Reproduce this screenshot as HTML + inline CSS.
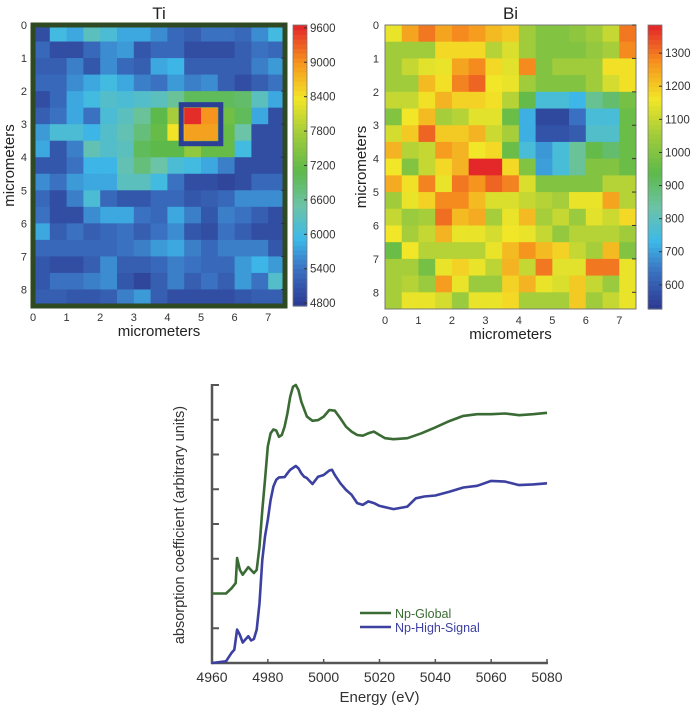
<!DOCTYPE html>
<html><head><meta charset="utf-8">
<style>
html,body{margin:0;padding:0;background:#fff;}
svg{display:block;font-family:"Liberation Sans",sans-serif;}
</style></head>
<body>
<svg id="fig" width="700" height="717" viewBox="0 0 700 717"></svg>
<script>
const tiRows = [
[5000,6000,5800,6300,6100,5800,5800,5600,5300,5200,5400,5400,5300,5600,6000],
[5300,5000,5000,5300,5600,5700,5100,5300,5300,5000,5000,5000,5200,5400,5300],
[5200,5200,5500,5100,5600,5300,5200,5800,5900,5200,5200,5200,5200,5500,5700],
[5300,5300,5600,5800,6000,5800,5500,5400,5700,5500,5600,5200,5000,5200,5400],
[5000,5300,5800,6000,6200,6100,6200,6300,6600,7000,7000,7000,6900,6300,5800],
[5200,5400,5800,5400,6100,6300,6600,7100,7800,9600,9000,7300,7000,5800,5000],
[5700,6100,6100,5900,6200,6400,6800,7200,8400,8900,8900,7200,6500,5000,5000],
[5800,5100,5500,6400,6200,6300,7000,7100,7100,7600,7200,7200,6000,5000,5000],
[5100,5100,5400,5900,5900,6400,6800,6500,6100,6000,5800,5500,5000,5000,5000],
[5600,5400,5700,5800,5800,6300,6300,6000,5400,5000,5000,4900,5000,5300,5300],
[5300,5000,5500,6100,5300,5100,5100,5300,5300,5100,5200,5300,5600,5600,5600],
[5400,5000,5000,5600,5800,5800,5400,5300,5800,5500,5100,5500,5400,5200,5000],
[5800,5200,5400,5200,5300,5400,5200,5400,5600,5100,5000,5400,5200,5000,5000],
[5300,5300,5300,5300,5300,5400,5500,5700,5800,5500,5300,5500,5500,5500,5100],
[5100,5000,5000,5200,5600,5200,5200,5300,5500,5400,5300,5300,5700,5900,5700],
[5100,5400,5400,5500,5600,5100,4900,5200,5500,5200,5400,5200,5700,5400,6200],
[5200,5200,5100,5100,5200,5500,5700,5200,5000,5000,5000,5000,5100,5200,5200]];
const biRows = [
[1150,1250,1300,1250,1280,1260,1220,1200,1050,1000,1000,1020,1050,1100,1300],
[1050,1050,1050,1180,1180,1180,1080,1130,1050,1000,1000,1000,1030,1060,1280],
[1050,1100,1140,1150,1250,1280,1180,1140,1280,1000,1050,1050,1050,1170,1170],
[1050,1050,1220,1170,1290,1320,1160,1150,1050,1000,1000,1000,1050,1120,1170],
[1100,1100,1170,1230,1190,1190,1170,1080,950,760,760,730,860,900,980],
[1000,1160,1220,1060,1080,1140,1140,960,720,560,560,640,760,760,960],
[1120,1200,1320,1200,1200,1230,1110,1060,720,580,580,600,780,780,960],
[1230,1080,1100,1260,1230,1160,1180,960,760,690,760,850,950,900,960],
[1160,1000,1100,1180,1230,1380,1380,1180,1000,700,760,850,1000,1000,960],
[1240,1170,1290,1150,1300,1270,1320,1290,1130,1000,1000,1000,1000,1080,1080],
[1050,1150,1190,1280,1280,1220,1130,1130,1100,1080,1060,1150,1150,1250,1080],
[1100,1040,1060,1310,1220,1240,1060,1150,1220,1060,1100,1040,1140,1110,1180],
[1160,1060,1100,1230,1150,1150,1120,1160,1150,1100,1030,1080,1080,1080,1050],
[960,1160,1080,1080,1080,1080,1150,1220,1270,1220,1190,1100,1060,1220,1000],
[1060,1060,980,1150,1190,1150,1090,1230,1100,1300,1140,1140,1300,1300,1150],
[1060,1080,1040,1260,1150,1040,1040,1190,1230,1150,1130,1200,1100,1040,1150],
[1060,1150,1150,1120,1040,1150,1150,1180,1060,1060,1060,1200,1050,1100,1150]];
const tiTicks = [4800,5400,6000,6600,7200,7800,8400,9000,9600];
const biTicks = [600,700,800,900,1000,1100,1200,1300];
const mapXTicks = [0,1,2,3,4,5,6,7];
const mapYTicks = [0,1,2,3,4,5,6,7,8];
const energy = [4960,4965,4967,4968.5,4969,4970,4971,4973,4975,4976,4977,4978,4979,4980,4981,4982,4983,4984,4985,4986,4987,4988,4989,4990,4991,4992,4994,4996,4998,5000,5002,5004,5006,5008,5010,5012,5014,5016,5018,5020,5022,5025,5030,5035,5040,5045,5050,5055,5060,5065,5070,5075,5080];
const globalMu = [2.0,2.0,2.15,2.3,3.02,2.68,2.54,2.76,2.59,2.68,3.35,4.4,5.27,6.23,6.61,6.72,6.69,6.51,6.56,6.8,7.18,7.66,7.95,8.0,7.85,7.52,7.09,6.97,6.99,7.09,7.28,7.26,7.04,6.8,6.66,6.56,6.54,6.61,6.66,6.56,6.47,6.44,6.47,6.61,6.78,6.96,7.11,7.16,7.16,7.18,7.13,7.16,7.2];
const energyHS = [4960,4965,4967,4968,4969,4970,4971,4973,4974,4975,4976,4977,4978,4979,4980,4981,4982,4983,4984,4986,4987,4988,4990,4991,4992,4993,4994,4996,4998,5000,5002,5003,5004,5006,5008,5010,5012,5014,5016,5018,5020,5025,5030,5033,5036,5040,5045,5050,5055,5060,5065,5070,5075,5080];
const highSignalMu = [0,0.05,0.29,0.38,0.96,0.81,0.59,0.77,0.65,0.69,0.96,1.72,2.97,3.64,4.12,4.69,5.08,5.27,5.34,5.35,5.46,5.56,5.67,5.6,5.46,5.36,5.32,5.15,5.36,5.41,5.54,5.56,5.41,5.17,4.98,4.84,4.6,4.55,4.65,4.6,4.52,4.43,4.5,4.74,4.79,4.82,4.93,5.05,5.1,5.24,5.22,5.12,5.14,5.17];
const energyTicks = [4960,4980,5000,5020,5040,5060,5080];

const NS = "http://www.w3.org/2000/svg";
const svg = document.getElementById('fig');
function mk(tag, attrs, parent){const e=document.createElementNS(NS,tag);for(const k in attrs)e.setAttribute(k,attrs[k]);(parent||svg).appendChild(e);return e;}
function txt(s, attrs, parent){const e=mk('text',attrs,parent);e.textContent=s;return e;}

const stops=[[0,[43,57,144]],[0.13,[58,111,192]],[0.24,[61,185,232]],[0.36,[108,195,166]],[0.48,[93,185,74]],[0.62,[165,205,58]],[0.74,[242,230,39]],[0.87,[246,146,30]],[1,[227,35,42]]];
function cmap(t){t=Math.max(0,Math.min(1,t));for(let i=1;i<stops.length;i++){if(t<=stops[i][0]){const a=stops[i-1],b=stops[i];const f=(t-a[0])/(b[0]-a[0]);const c=a[1].map((v,j)=>Math.round(v+(b[1][j]-v)*f));return `rgb(${c[0]},${c[1]},${c[2]})`;}}return 'rgb(227,35,42)';}

function heatmap(opt){
  const g=mk('g',{});
  
  
  const xs=v=>opt.x0+v/7.5*(opt.x1-opt.x0);
  const ys=v=>opt.y0+v/8.5*(opt.y1-opt.y0);
  const norm=v=>(v-opt.vmin)/(opt.vmax-opt.vmin);
  opt.rows.forEach((row,r)=>row.forEach((v,c)=>{
    const rect=mk('rect',{x:xs(c*0.5),y:ys(r*0.5),width:xs(0.5)-xs(0)+0.5,height:ys(0.5)-ys(0)+0.5,fill:cmap(norm(v))},g);
    
    
  }));
  if(opt.border){const b=mk('rect',{x:opt.x0,y:opt.y0,width:opt.x1-opt.x0,height:opt.y1-opt.y0,fill:'none',stroke:'#2f4a22','stroke-width':5},g);}
  else {const b=mk('rect',{x:opt.x0,y:opt.y0,width:opt.x1-opt.x0,height:opt.y1-opt.y0,fill:'none',stroke:'#777','stroke-width':1},g);}
  if(opt.box){const b=mk('rect',{x:xs(4.5)-3,y:ys(2.5)-3,width:xs(5.5)-xs(4.5)+6,height:ys(3.5)-ys(2.5)+6,fill:'none',stroke:'#2d3f95','stroke-width':5},g);}
  mapXTicks.forEach(t=>{const e=txt(String(t),{x:xs(t),y:opt.y1+15,'font-size':11,'text-anchor':'middle',fill:'#333'},g);});
  mapYTicks.forEach(t=>{const e=txt(String(t),{x:opt.x0-6,y:ys(t)+4,'font-size':11,'text-anchor':'end',fill:'#333'},g);
    mk('line',{x1:opt.x1-4,x2:opt.x1,y1:ys(t),y2:ys(t),stroke:'#333','stroke-width':1},g);});
  const tl=txt(opt.title,{x:(opt.x0+opt.x1)/2,y:opt.y0-6,'font-size':17,'text-anchor':'middle',fill:'#222'},g);
  
  const xl=txt('micrometers',{x:(opt.x0+opt.x1)/2,y:opt.y1+30,'font-size':15,'text-anchor':'middle',fill:'#222'},g);
  
  const yx=opt.x0-19, yy=(opt.y0+opt.y1)/2;
  const yl=txt('micrometers',{x:yx,y:yy,'font-size':15,'text-anchor':'middle',fill:'#222',transform:`rotate(-90 ${yx} ${yy})`},g);
  
  // colorbar
  const cb=mk('g',{},g);
  
  
  const cy=v=>opt.y1-(v-opt.vmin)/(opt.vmax-opt.vmin)*(opt.y1-opt.y0);
  const n=60;
  for(let i=0;i<n;i++){const v0=opt.vmin+(opt.vmax-opt.vmin)*i/n, v1=opt.vmin+(opt.vmax-opt.vmin)*(i+1)/n;
    mk('rect',{x:opt.cx,y:cy(v1),width:14,height:cy(v0)-cy(v1)+0.6,fill:cmap((v0+v1)/2>0?((v0+v1)/2-opt.vmin)/(opt.vmax-opt.vmin):0)},cb);}
  mk('rect',{x:opt.cx,y:opt.y0,width:14,height:opt.y1-opt.y0,fill:'none',stroke:'#777','stroke-width':0.8},cb);
  opt.ticks.forEach(t=>{mk('line',{x1:opt.cx+11,x2:opt.cx+14,y1:cy(t),y2:cy(t),stroke:'#333'},cb);
    const e=txt(String(t),{x:opt.cx+17,y:cy(t)+4,'font-size':11.5,fill:'#333'},cb);});
}
heatmap({name:'ti-map',title:'Ti',rows:tiRows,x0:33,x1:285,y0:25,y1:306,vmin:4750,vmax:9650,cx:293,ticks:tiTicks,border:true,box:true});
heatmap({name:'bi-map',title:'Bi',rows:biRows,x0:385,x1:636,y0:25,y1:309,vmin:527,vmax:1385,cx:648,ticks:biTicks,border:false,box:false});

// line chart
const L={x0:212,x1:547,y0:663,y1:385};
const ex=v=>L.x0+(v-4960)/120*(L.x1-L.x0);
const my=v=>L.y0-v/8*(L.y0-L.y1);
const lc=mk('g',{});


mk('line',{x1:L.x0,x2:L.x0,y1:L.y1-1,y2:L.y0+1,stroke:'#555','stroke-width':2.5},lc);
mk('line',{x1:L.x0-1,x2:L.x1+1,y1:L.y0,y2:L.y0,stroke:'#555','stroke-width':2.5},lc);
for(let i=0;i<=8;i++){mk('line',{x1:L.x0,x2:L.x0+7,y1:my(i),y2:my(i),stroke:'#555','stroke-width':2},lc);}
energyTicks.forEach(t=>{mk('line',{x1:ex(t),x2:ex(t),y1:L.y0,y2:L.y0-4,stroke:'#555','stroke-width':1.5},lc);
  const e=txt(String(t),{x:ex(t),y:L.y0+19,'font-size':14,'text-anchor':'middle',fill:'#333'},lc);});
const xt=txt('Energy (eV)',{x:(L.x0+L.x1)/2,y:702,'font-size':15,'text-anchor':'middle',fill:'#333'},lc);

const yt=txt('absorption coefficient (arbitrary units)',{x:184,y:525,'font-size':14.5,'text-anchor':'middle',fill:'#333',transform:'rotate(-90 184 525)'},lc);

function series(xsArr,ysArr,color,name){const d=xsArr.map((v,i)=>(i?'L':'M')+ex(v).toFixed(1)+' '+my(ysArr[i]).toFixed(1)).join(' ');
  const p=mk('path',{d:d,fill:'none',stroke:color,'stroke-width':2.6,'stroke-linejoin':'round'},lc);
  }
series(energy,globalMu,'#3b6b35','np-global-line');
series(energyHS,highSignalMu,'#3c40a0','np-high-signal-line');
const lg=mk('g',{},lc);


mk('line',{x1:360,x2:391,y1:613,y2:613,stroke:'#3b6b35','stroke-width':2.6},lg);
mk('line',{x1:360,x2:391,y1:627,y2:627,stroke:'#3c40a0','stroke-width':2.6},lg);
const l1=txt('Np-Global',{x:395,y:618,'font-size':12.5,fill:'#3b6b35'},lg);

const l2=txt('Np-High-Signal',{x:395,y:632,'font-size':12.5,fill:'#3c40a0'},lg);

</script>
</body></html>
